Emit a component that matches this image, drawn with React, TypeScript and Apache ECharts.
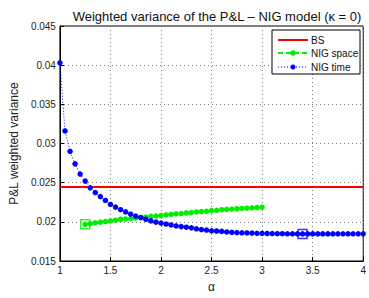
import React, { useEffect, useRef } from "react";
import * as echarts from "echarts";

const titleText = "Weighted variance of the P&L \u2013 NIG model (\u03ba = 0)";
const xTicks = [1, 1.5, 2, 2.5, 3, 3.5, 4];
const yTicks = [0.015, 0.02, 0.025, 0.03, 0.035, 0.04, 0.045];

const alphaTime = [
  1.0, 1.05, 1.1, 1.15, 1.2, 1.25, 1.3, 1.35, 1.4, 1.45, 1.5, 1.55, 1.6, 1.65, 1.7, 1.75,
  1.8, 1.85, 1.9, 1.95, 2.0, 2.05, 2.1, 2.15, 2.2, 2.25, 2.3, 2.35, 2.4, 2.45, 2.5, 2.55,
  2.6, 2.65, 2.7, 2.75, 2.8, 2.85, 2.9, 2.95, 3.0, 3.05, 3.1, 3.15, 3.2, 3.25, 3.3, 3.35,
  3.4, 3.45, 3.5, 3.55, 3.6, 3.65, 3.7, 3.75, 3.8, 3.85, 3.9, 3.95, 4.0,
];
const nigTime = [
  0.0403, 0.0316, 0.029, 0.0274, 0.0261, 0.0252, 0.02435, 0.02374, 0.02322, 0.02273, 0.02224,
  0.02188, 0.02155, 0.02127, 0.02098, 0.02073, 0.02054, 0.02033, 0.02012, 0.01996, 0.01984,
  0.01972, 0.0196, 0.01947, 0.01939, 0.01932, 0.01923, 0.01911, 0.01902, 0.01895, 0.01886,
  0.01883, 0.01878, 0.01871, 0.01866, 0.01862, 0.0186, 0.01858, 0.01856, 0.01854, 0.01853,
  0.01851, 0.0185, 0.01849, 0.01848, 0.01847, 0.01847, 0.01846, 0.01846, 0.01846, 0.01846,
  0.01846, 0.01846, 0.01846, 0.01846, 0.01847, 0.01847, 0.01847, 0.01847, 0.01847, 0.01847,
];

const alphaSpace = [
  1.25, 1.3, 1.35, 1.4, 1.45, 1.5, 1.55, 1.6, 1.65, 1.7, 1.75, 1.8, 1.85, 1.9, 1.95, 2.0,
  2.05, 2.1, 2.15, 2.2, 2.25, 2.3, 2.35, 2.4, 2.45, 2.5, 2.55, 2.6, 2.65, 2.7, 2.75, 2.8,
  2.85, 2.9, 2.95, 3.0,
];
const nigSpace = [
  0.01968, 0.01976, 0.01988, 0.01996, 0.02004, 0.02013, 0.02021, 0.02033, 0.02037, 0.02041,
  0.02049, 0.02057, 0.02061, 0.0207, 0.02074, 0.02082, 0.0209, 0.02094, 0.02102, 0.02106,
  0.02114, 0.02118, 0.02126, 0.0213, 0.02135, 0.02143, 0.02147, 0.02155, 0.02159, 0.02163,
  0.02167, 0.02171, 0.02175, 0.02179, 0.02183, 0.02187,
];

const alphaBS = [1, 4];
const bsValues = [0.02444, 0.02444];

const spaceOptimum = [1.25, 0.01968];
const timeOptimum = [3.4, 0.01846];

const legendNames = ["BS", "NIG space", "NIG time"];

const FONT = "'Liberation Sans', Arial, Helvetica, sans-serif";

const zip = (xs: number[], ys: number[]) => xs.map((x, i) => [x, ys[i]]);

export default function App() {
  const ref = useRef<HTMLDivElement>(null);
  useEffect(() => {
    if (!ref.current) return;
    const chart = echarts.init(ref.current, null, { renderer: "svg" });
    const gridLine = { show: true, lineStyle: { color: "#777", type: [1, 3] as any, width: 1 } };
    const axisLabel = { fontFamily: FONT, fontSize: 10, color: "#222" };
    const lx = 278, lx2 = 308, ltx = 311;
    const ly = [40, 53, 67];
    chart.setOption({
      animation: false,
      backgroundColor: "#fff",
      title: {
        text: titleText,
        left: 212,
        top: 5,
        textAlign: "center",
        textStyle: { fontFamily: FONT, fontSize: 13, fontWeight: "normal", color: "#111" },
      },
      grid: {
        left: 53,
        right: 3,
        top: 26,
        bottom: 26,
        show: true,
        borderColor: "#000",
        borderWidth: 1,
        backgroundColor: "transparent",
      },
      xAxis: {
        type: "value",
        min: 1,
        max: 4,
        interval: 0.5,
        name: "\u03b1",
        nameLocation: "middle",
        nameGap: 20,
        nameTextStyle: { fontFamily: FONT, fontSize: 12, color: "#222" },
        axisLine: { show: true, onZero: false, lineStyle: { color: "#000" } },
        axisTick: { show: true, inside: true, length: 4, lineStyle: { color: "#000" } },
        axisLabel: { ...axisLabel, margin: 4 },
        splitLine: gridLine,
      },
      yAxis: {
        type: "value",
        min: 0.015,
        max: 0.045,
        interval: 0.005,
        name: "P&L weighted variance",
        nameLocation: "middle",
        nameGap: 32,
        nameTextStyle: { fontFamily: FONT, fontSize: 12, color: "#222" },
        axisLine: { show: true, onZero: false, lineStyle: { color: "#000" } },
        axisTick: { show: true, inside: true, length: 4, lineStyle: { color: "#000" } },
        axisLabel: { ...axisLabel, margin: 4, formatter: (v: number) => String(+v.toFixed(3)) },
        splitLine: gridLine,
      },
      series: [
        {
          name: legendNames[0],
          type: "line",
          data: zip(alphaBS, bsValues),
          showSymbol: false,
          symbol: "none",
          lineStyle: { color: "#ff0000", width: 2 },
          z: 3,
        },
        {
          name: legendNames[1],
          type: "line",
          data: zip(alphaSpace, nigSpace),
          symbol: "circle",
          symbolSize: 5.5,
          itemStyle: { color: "#00ee00" },
          lineStyle: { color: "#00ee00", width: 2, type: [5, 3] as any },
          z: 4,
        },
        {
          name: legendNames[2],
          type: "line",
          data: zip(alphaTime, nigTime),
          symbol: "circle",
          symbolSize: 5.5,
          itemStyle: { color: "#0000ff" },
          lineStyle: { color: "#0000ff", width: 1, type: [1, 2] as any },
          z: 5,
        },
        {
          type: "scatter",
          data: [spaceOptimum],
          symbol: "rect",
          symbolSize: 9,
          itemStyle: { color: "transparent", borderColor: "#00ee00", borderWidth: 1.5 },
          z: 6,
        },
        {
          type: "scatter",
          data: [timeOptimum],
          symbol: "rect",
          symbolSize: 9,
          itemStyle: { color: "transparent", borderColor: "#0000ff", borderWidth: 1.5 },
          z: 6,
        },
      ],
      graphic: [
        {
          type: "rect",
          shape: { x: 272, y: 30, width: 88, height: 44 },
          style: { fill: "#fff", stroke: "#000", lineWidth: 1 },
          z: 100,
        },
        {
          type: "line",
          shape: { x1: lx, y1: ly[0], x2: lx2, y2: ly[0] },
          style: { stroke: "#ff0000", lineWidth: 2 },
          z: 101,
        },
        {
          type: "line",
          shape: { x1: lx, y1: ly[1], x2: lx2, y2: ly[1] },
          style: { stroke: "#00ee00", lineWidth: 2, lineDash: [5, 3] },
          z: 101,
        },
        {
          type: "circle",
          shape: { cx: 293, cy: ly[1], r: 2.8 },
          style: { fill: "#00ee00" },
          z: 102,
        },
        {
          type: "line",
          shape: { x1: lx, y1: ly[2], x2: lx2, y2: ly[2] },
          style: { stroke: "#0000ff", lineWidth: 1, lineDash: [1, 2] },
          z: 101,
        },
        {
          type: "circle",
          shape: { cx: 293, cy: ly[2], r: 2.5 },
          style: { fill: "#0000ff" },
          z: 102,
        },
        ...legendNames.map((n, i) => ({
          type: "text",
          x: ltx,
          y: ly[i],
          style: {
            text: n,
            fontFamily: FONT,
            fontSize: 10,
            fill: "#111",
            textVerticalAlign: "middle",
            verticalAlign: "middle",
          },
          z: 102,
        })),
      ],
    });
    return () => chart.dispose();
  }, []);
  return (
    <div
      ref={ref}
      style={{ position: "fixed", left: 0, top: 0, width: 369, height: 298, background: "#fff" }}
    />
  );
}
